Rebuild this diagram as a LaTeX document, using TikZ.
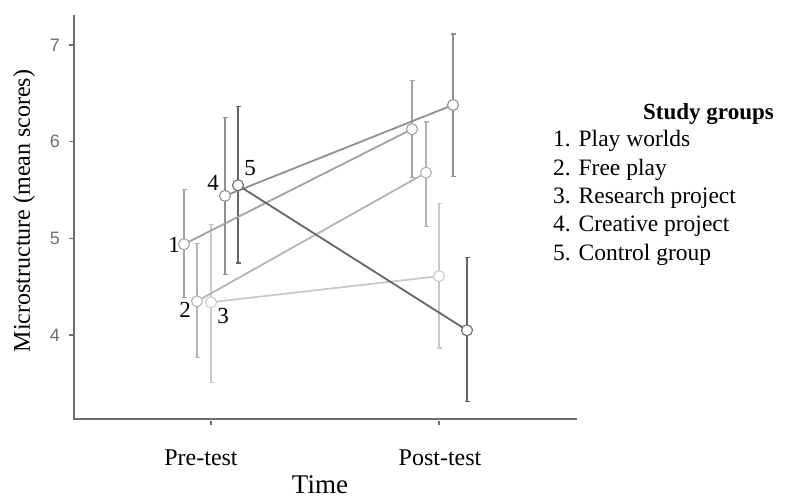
\documentclass[tikz,border=0pt]{standalone}
\usepackage{fontspec}
\setmainfont{Liberation Serif}
\newfontfamily\ticksans{Liberation Sans}
\usetikzlibrary{arrows.meta,backgrounds}

\definecolor{axisgray}{HTML}{6E6E6E}
\definecolor{grpone}{HTML}{A2A2A2}
\definecolor{grptwo}{HTML}{B4B4B4}
\definecolor{grpthree}{HTML}{CACACA}
\definecolor{grpfour}{HTML}{909090}
\definecolor{grpfive}{HTML}{666666}

\tikzset{
  pt/.style={circle,draw,fill=white,line width=1.1pt,minimum size=11pt,inner sep=0pt},
  errbar/.style={line width=1.8pt,{Bar[width=5pt,line width=1.2pt]}-{Bar[width=5pt,line width=1.2pt]}},
  trend/.style={line width=1.8pt},
  ticklab/.style={font=\ticksans\fontsize{18}{20}\selectfont,text=axisgray,inner sep=0pt},
  grplabel/.style={font=\fontsize{23}{24}\selectfont,inner sep=0pt},
  legtext/.style={font=\fontsize{23.5}{28}\selectfont,inner sep=0pt,anchor=base west}
}

\begin{document}
\begin{tikzpicture}[x=1pt,y=-1pt]
  \useasboundingbox (0,0) rectangle (785,499);

  % axes
  \coordinate (ytop) at (74,15);
  \coordinate (orig) at (74,419);
  \coordinate (xend) at (577,419);
  \draw[axisgray,line width=1.6pt] (ytop) -- (orig) -- (xend);

  % data scope: x in pixels, y in scores
  \begin{scope}[shift={(0,721.9)},y=96.7pt]
    \foreach \v in {4,5,6,7} {
      \draw[axisgray,line width=1.4pt] (69,\v) -- (74,\v);
      \node[ticklab] at (55,\v) {\v};
    }
    \draw[axisgray,line width=1.4pt] (211,3.112) -- (211,3.07);
    \draw[axisgray,line width=1.4pt] (439,3.112) -- (439,3.07);

    % pre-test
    \node[pt,draw=grpone]   (pre1) at (184,4.94) {};
    \node[pt,draw=grptwo]   (pre2) at (197,4.35) {};
    \node[pt,draw=grpthree] (pre3) at (211,4.34) {};
    \node[pt,draw=grpfour]  (pre4) at (225,5.44) {};
    \node[pt,draw=grpfive]  (pre5) at (238,5.55) {};
    % post-test
    \node[pt,draw=grpone]   (post1) at (412,6.13) {};
    \node[pt,draw=grptwo]   (post2) at (426,5.68) {};
    \node[pt,draw=grpthree] (post3) at (439,4.61) {};
    \node[pt,draw=grpfour]  (post4) at (453,6.38) {};
    \node[pt,draw=grpfive]  (post5) at (467,4.05) {};

    % error bar ends
    \coordinate (pre1lo) at (184,4.38);  \coordinate (pre1hi) at (184,5.51);
    \coordinate (pre2lo) at (197,3.76);  \coordinate (pre2hi) at (197,4.95);
    \coordinate (pre3lo) at (211,3.50);  \coordinate (pre3hi) at (211,5.15);
    \coordinate (pre4lo) at (225,4.62);  \coordinate (pre4hi) at (225,6.26);
    \coordinate (pre5lo) at (238,4.74);  \coordinate (pre5hi) at (238,6.37);
    \coordinate (post1lo) at (412,5.62); \coordinate (post1hi) at (412,6.64);
    \coordinate (post2lo) at (426,5.12); \coordinate (post2hi) at (426,6.21);
    \coordinate (post3lo) at (439,3.86); \coordinate (post3hi) at (439,5.37);
    \coordinate (post4lo) at (453,5.63); \coordinate (post4hi) at (453,7.12);
    \coordinate (post5lo) at (467,3.31); \coordinate (post5hi) at (467,4.81);
  \end{scope}

  \begin{scope}[on background layer]
    \draw[errbar,grpone]   (pre1lo) -- (pre1hi);
    \draw[errbar,grptwo]   (pre2lo) -- (pre2hi);
    \draw[errbar,grpthree] (pre3lo) -- (pre3hi);
    \draw[errbar,grpfour]  (pre4lo) -- (pre4hi);
    \draw[errbar,grpfive]  (pre5lo) -- (pre5hi);
    \draw[errbar,grpone]   (post1lo) -- (post1hi);
    \draw[errbar,grptwo]   (post2lo) -- (post2hi);
    \draw[errbar,grpthree] (post3lo) -- (post3hi);
    \draw[errbar,grpfour]  (post4lo) -- (post4hi);
    \draw[errbar,grpfive]  (post5lo) -- (post5hi);
    \draw[trend,grpthree] (pre3.center) -- (post3.center);
    \draw[trend,grptwo]   (pre2.center) -- (post2.center);
    \draw[trend,grpone]   (pre1.center) -- (post1.center);
    \draw[trend,grpfour]  (pre4.center) -- (post4.center);
    \draw[trend,grpfive]  (pre5.center) -- (post5.center);
  \end{scope}

  % group numbers
  \node[grplabel] (lab1) at (174,245) {1};
  \node[grplabel] (lab2) at (185,310) {2};
  \node[grplabel] (lab3) at (223,316) {3};
  \node[grplabel] (lab4) at (213,183) {4};
  \node[grplabel] (lab5) at (250,168) {5};

  % axis titles
  \node[font=\fontsize{24}{28}\selectfont,inner sep=0pt,anchor=base] (pre) at (201,465.5) {Pre-test};
  \node[font=\fontsize{24}{28}\selectfont,inner sep=0pt,anchor=base] (post) at (440,465.5) {Post-test};
  \node[font=\fontsize{27}{30}\selectfont,inner sep=0pt,anchor=base] (time) at (320,493) {Time};
  \node[font=\fontsize{24}{28}\selectfont,inner sep=0pt,rotate=90] (ylab) at (24,211) {Microstructure (mean scores)};

  % legend
  \node[font=\bfseries\fontsize{23}{28}\selectfont,inner sep=0pt,anchor=base east] (leghead) at (774,119.3) {Study groups};
  \node[legtext] (leg1) at (553,146.7) {1. Play worlds};
  \node[legtext] (leg2) at (553,175) {2. Free play};
  \node[legtext] (leg3) at (553,203.3) {3. Research project};
  \node[legtext] (leg4) at (553,231.7) {4. Creative project};
  \node[legtext] (leg5) at (553,260) {5. Control group};
\end{tikzpicture}
\end{document}
